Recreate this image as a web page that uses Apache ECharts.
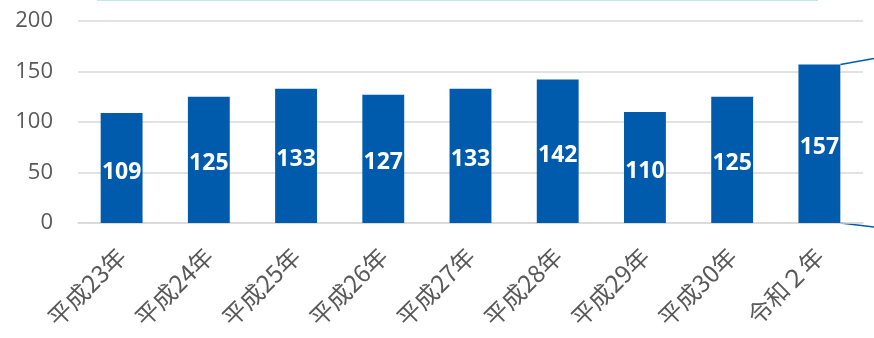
<!DOCTYPE html>
<html><head><meta charset="utf-8">
<script src="https://cdn.jsdelivr.net/npm/echarts@6/dist/echarts.min.js"></script>
<style>html,body{margin:0;padding:0;background:#fff}#c{width:874px;height:338px}</style>
</head><body><div id="c"></div>
<script>
const categories = ['平成23年','平成24年','平成25年','平成26年','平成27年','平成28年','平成29年','平成30年','令和２年'];
const values = [109,125,133,127,133,142,110,125,157];
const yTicks = [0,50,100,150,200];

(function(){
const chart = echarts.init(document.getElementById('c'));
const font = '"Noto Sans CJK JP","Open Sans",sans-serif';
chart.setOption({
  animation:false,
  grid:{left:78,right:11,top:21,bottom:115,containLabel:false},
  xAxis:{type:'category',data:categories,
    axisLine:{lineStyle:{color:'#d9d9d9',width:1.5}},axisTick:{show:false},
    axisLabel:{rotate:45,interval:0,color:'#595959',fontSize:24,fontFamily:font,margin:29}},
  yAxis:{type:'value',min:yTicks[0],max:yTicks[yTicks.length-1],interval:50,
    axisLine:{show:false},axisTick:{show:false},
    splitLine:{lineStyle:{color:'#d9d9d9',width:1.5}},
    axisLabel:{color:'#595959',fontSize:22,fontFamily:'"Open Sans",sans-serif',margin:25,padding:[3,0,0,0]}},
  series:[{type:'bar',data:values,barWidth:'48%',
    itemStyle:{color:'#005BAC'},
    label:{show:true,position:'inside',color:'#fff',fontWeight:'bold',fontSize:23,fontFamily:'"Open Sans",sans-serif',offset:[0,4]}}]
});
const last = values.length-1;
const pTop = chart.convertToPixel({seriesIndex:0},[last,values[last]]);
const pBot = chart.convertToPixel({seriesIndex:0},[last,0]);
const bw = 42;
const xr = pTop[0]+bw/2;
chart.setOption({graphic:[
  {type:'line',shape:{x1:97,y1:0,x2:818,y2:0},style:{stroke:'#bfe8e6',lineWidth:2}},
  {type:'line',shape:{x1:xr,y1:pTop[1],x2:874,y2:pTop[1]-6},style:{stroke:'#005BAC',lineWidth:1.5}},
  {type:'line',shape:{x1:xr,y1:pBot[1],x2:874,y2:pBot[1]+4},style:{stroke:'#005BAC',lineWidth:1.5}}
]});
})();
</script></body></html>
